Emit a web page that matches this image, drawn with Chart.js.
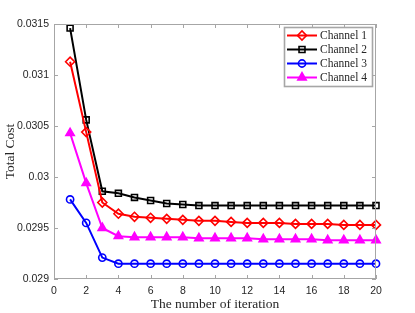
<!DOCTYPE html>
<html>
<head>
<meta charset="utf-8">
<script src="https://cdn.jsdelivr.net/npm/chart.js@4"></script>
<style>
  html, body { margin: 0; padding: 0; background: #fff; }
  canvas { display: block; }
</style>
</head>
<body>
<canvas id="chart" width="415" height="313"></canvas>
<script>
const iterations = [1, 2, 3, 4, 5, 6, 7, 8, 9, 10, 11, 12, 13, 14, 15, 16, 17, 18, 19, 20];
const channel1 = [0.03113, 0.03044, 0.02975, 0.02964, 0.02961, 0.02960, 0.02959, 0.02958, 0.02957, 0.02957,
                  0.02956, 0.02955, 0.02955, 0.02955, 0.02954, 0.02954, 0.02954, 0.02953, 0.02953, 0.02953];
const channel2 = [0.03146, 0.03056, 0.02986, 0.02984, 0.02980, 0.02977, 0.02974, 0.02973, 0.02972, 0.02972,
                  0.02972, 0.02972, 0.02972, 0.02972, 0.02972, 0.02972, 0.02972, 0.02972, 0.02972, 0.02972];
const channel3 = [0.02978, 0.02955, 0.02921, 0.02915, 0.02915, 0.02915, 0.02915, 0.02915, 0.02915, 0.02915,
                  0.02915, 0.02915, 0.02915, 0.02915, 0.02915, 0.02915, 0.02915, 0.02915, 0.02915, 0.02915];
const channel4 = [0.03043, 0.02994, 0.02950, 0.02942, 0.02941, 0.02941, 0.02941, 0.02941, 0.02940, 0.02940,
                  0.02940, 0.02940, 0.02939, 0.02939, 0.02939, 0.02939, 0.02938, 0.02938, 0.02938, 0.02938];
const seriesNames = ['Channel 1', 'Channel 2', 'Channel 3', 'Channel 4'];
const xTicks = [0, 2, 4, 6, 8, 10, 12, 14, 16, 18, 20];
const yTicks = [0.029, 0.0295, 0.03, 0.0305, 0.031, 0.0315];
const xTitle = 'The number of iteration';
const yTitle = 'Total Cost';

const axisColor = '#a6a6a6';
const labelColor = '#262626';
const serif = '"Liberation Serif", "DejaVu Serif", serif';
const sans = '"Liberation Sans", Arial, sans-serif';

function makeSet(label, values, color, style, radius, fill) {
  return {
    label: label,
    data: iterations.map((x, i) => ({ x: x, y: values[i] })),
    borderColor: color,
    backgroundColor: fill ? color : 'rgba(0,0,0,0)',
    pointStyle: style,
    pointRadius: radius,
    pointBorderWidth: 1.6,
    pointBorderColor: color,
    pointBackgroundColor: fill ? color : 'rgba(0,0,0,0)',
    borderWidth: 2,
    tension: 0,
    clip: false
  };
}

const datasets = [
  makeSet(seriesNames[0], channel1, '#ff0000', 'rectRot', 4.5, false),
  makeSet(seriesNames[1], channel2, '#000000', 'rect', 4.2, false),
  makeSet(seriesNames[2], channel3, '#0000ff', 'circle', 3.6, false),
  makeSet(seriesNames[3], channel4, '#ff00ff', 'triangle', 4.8, true)
];

// box, inward ticks, axis titles and legend in matlab style
const matlabLook = {
  id: 'matlabLook',
  afterDraw(chart) {
    const ctx = chart.ctx;
    const a = chart.chartArea;
    const xs = chart.scales.x, ys = chart.scales.y;
    ctx.save();
    ctx.strokeStyle = axisColor;
    ctx.lineWidth = 1;
    ctx.strokeRect(a.left + 0.5, a.top + 0.5, a.right - a.left - 1, a.bottom - a.top - 1);
    ctx.beginPath();
    xTicks.forEach(v => {
      const px = Math.round(xs.getPixelForValue(v)) + 0.5;
      ctx.moveTo(px, a.bottom); ctx.lineTo(px, a.bottom - 4);
      ctx.moveTo(px, a.top); ctx.lineTo(px, a.top + 4);
    });
    yTicks.forEach(v => {
      const py = Math.round(ys.getPixelForValue(v)) + 0.5;
      ctx.moveTo(a.left, py); ctx.lineTo(a.left + 4, py);
      ctx.moveTo(a.right, py); ctx.lineTo(a.right - 4, py);
    });
    ctx.stroke();

    // axis titles
    ctx.fillStyle = labelColor;
    ctx.font = '13.5px ' + serif;
    ctx.textAlign = 'center';
    ctx.textBaseline = 'middle';
    ctx.fillText(xTitle, (a.left + a.right) / 2, 304);
    ctx.translate(10, (a.top + a.bottom) / 2);
    ctx.rotate(-Math.PI / 2);
    ctx.fillText(yTitle, 0, 0);
    ctx.restore();

    // legend box
    ctx.save();
    const lx = 284, ly = 27, lw = 88, lh = 59;
    ctx.fillStyle = '#ffffff';
    ctx.fillRect(lx, ly, lw, lh);
    ctx.strokeStyle = axisColor;
    ctx.strokeRect(lx + 0.5, ly + 0.5, lw, lh);
    ctx.font = '11.5px ' + serif;
    ctx.textAlign = 'left';
    ctx.textBaseline = 'middle';
    datasets.forEach((ds, i) => {
      const y = ly + 8.5 + i * 14;
      ctx.strokeStyle = ds.borderColor;
      ctx.lineWidth = 2;
      ctx.beginPath();
      ctx.moveTo(lx + 3, y); ctx.lineTo(lx + 33, y);
      ctx.stroke();
      ctx.lineWidth = 1.6;
      ctx.fillStyle = ds.pointBackgroundColor;
      Chart.helpers.drawPoint(ctx, { pointStyle: ds.pointStyle, radius: ds.pointRadius, borderWidth: 1.6 }, lx + 18, y);
      ctx.fillStyle = labelColor;
      ctx.fillText(ds.label, lx + 36, y + 0.5);
    });
    ctx.restore();
  }
};

new Chart(document.getElementById('chart'), {
  type: 'line',
  data: { datasets: datasets },
  plugins: [matlabLook],
  options: {
    responsive: false,
    animation: false,
    layout: { padding: { left: 0, top: 24, right: 39, bottom: 0 } },
    plugins: { legend: { display: false }, tooltip: { enabled: false } },
    scales: {
      x: {
        type: 'linear',
        min: 0,
        max: 20,
        afterBuildTicks: s => { s.ticks = xTicks.map(v => ({ value: v })); },
        afterFit: s => { s.height = 34; },
        grid: { display: false, drawTicks: false },
        border: { display: false },
        ticks: { padding: 6, color: labelColor, font: { family: sans, size: 10.5 }, maxRotation: 0 }
      },
      y: {
        type: 'linear',
        min: 0.029,
        max: 0.0315,
        afterBuildTicks: s => { s.ticks = yTicks.map(v => ({ value: v })); },
        afterFit: s => { s.width = 54; },
        grid: { display: false, drawTicks: false },
        border: { display: false },
        ticks: {
          padding: 5,
          color: labelColor,
          font: { family: sans, size: 10.5 },
          callback: v => String(+v.toFixed(4))
        }
      }
    }
  }
});
</script>
</body>
</html>
